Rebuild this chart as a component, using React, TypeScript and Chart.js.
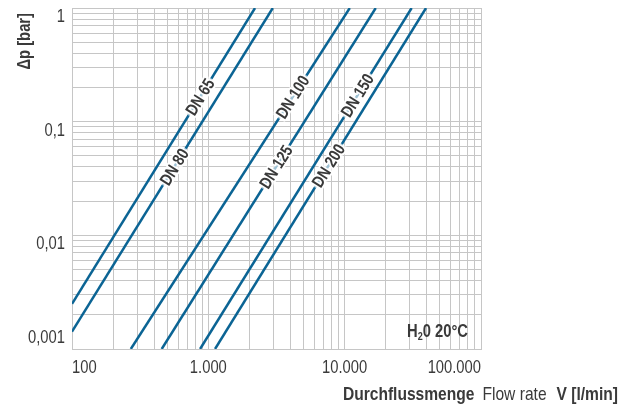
import React, { useEffect, useRef } from "react";
import { Chart, registerables } from "chart.js";

Chart.register(...registerables);

// ---- data ----
const seriesNames = ["DN 65", "DN 80", "DN 100", "DN 125", "DN 150", "DN 200"];
const flowStart = [100, 100, 270, 455, 870, 1120];
const dpStart = [0.0025, 0.00142, 0.001, 0.001, 0.001, 0.001];
const flowEnd = [2200, 2970, 10900, 16900, 31000, 39500];
const dpEnd = [1, 1, 1, 1, 1, 1];
const labelDp = [0.165, 0.04, 0.165, 0.04, 0.17, 0.041];

const flowDecades = [100, 1000, 10000, 100000];
const flowTickLabels = ["100", "1.000", "10.000", "100.000"];
const dpDecades = [0.001, 0.01, 0.1, 1];
const dpTickLabels = ["0,001", "0,01", "0,1", "1"];
const gridSteps = [1, 2, 3, 4, 5, 6, 7, 8, 9];

const FONT = "'Liberation Sans', Arial, sans-serif";
const SX = 0.82; // horizontal condensation of the text
const LINE = "#0b6494";
const GRID = "#c6c6c6";
const TEXT = "#3a3a3a";

function gridValues(decades: number[]) {
  const out: number[] = [];
  for (let i = 0; i < decades.length - 1; i++)
    for (const s of gridSteps) out.push(+(decades[i] * s).toPrecision(6));
  out.push(decades[decades.length - 1]);
  return out;
}

function measure(ctx: any, text: string, font: string) {
  ctx.save();
  ctx.font = font;
  const w = ctx.measureText(text).width * SX;
  ctx.restore();
  return w;
}

// draws condensed text at baseline y
function drawText(ctx: any, text: string, x: number, y: number, font: string, align: string) {
  const w = measure(ctx, text, font);
  let left = x;
  if (align === "center") left = x - w / 2;
  else if (align === "right") left = x - w;
  ctx.save();
  ctx.font = font;
  ctx.textAlign = "left";
  ctx.textBaseline = "alphabetic";
  ctx.translate(left, y);
  ctx.scale(SX, 1);
  ctx.fillText(text, 0, 0);
  ctx.restore();
}

const annotate = {
  id: "annotate",
  afterDatasetsDraw(chart: any) {
    const ctx = chart.ctx;
    const ys = chart.scales.y;
    seriesNames.forEach((name, i) => {
      const pts = chart.getDatasetMeta(i).data;
      const p0 = pts[0];
      const p1 = pts[pts.length - 1];
      const py = ys.getPixelForValue(labelDp[i]);
      const t = (py - p0.y) / (p1.y - p0.y);
      const px = p0.x + t * (p1.x - p0.x);
      const ang = Math.atan2(p1.y - p0.y, p1.x - p0.x);
      const font = `bold 17px ${FONT}`;
      ctx.save();
      ctx.translate(px, py);
      ctx.rotate(ang);
      ctx.font = font;
      const w = ctx.measureText(name).width * SX;
      ctx.fillStyle = "rgba(255,255,255,0.6)";
      ctx.fillRect(-w / 2 - 2, -7, w + 4, 14);
      ctx.scale(SX, 1);
      ctx.textAlign = "center";
      ctx.textBaseline = "middle";
      ctx.lineJoin = "round";
      ctx.strokeStyle = "rgba(255,255,255,0.95)";
      ctx.lineWidth = 4;
      ctx.strokeText(name, 0, 1);
      ctx.fillStyle = TEXT;
      ctx.fillText(name, 0, 1);
      ctx.restore();
    });
  },
  afterDraw(chart: any) {
    const ctx = chart.ctx;
    const xs = chart.scales.x;
    const ys = chart.scales.y;
    const area = chart.chartArea;
    const tickFont = `18px ${FONT}`;
    ctx.save();
    ctx.fillStyle = TEXT;
    // x tick labels (first flush left, last flush right, others centred)
    flowDecades.forEach((v, i) => {
      const p = xs.getPixelForValue(v);
      const align = i === 0 ? "left" : i === flowDecades.length - 1 ? "right" : "center";
      drawText(ctx, flowTickLabels[i], p, area.bottom + 24, tickFont, align);
    });
    // y tick labels
    dpDecades.forEach((v, i) => {
      const p = ys.getPixelForValue(v);
      const off = i === 0 ? -6 : 14;
      drawText(ctx, dpTickLabels[i], area.left - 7, p + off, tickFont, "right");
    });
    // y title
    ctx.save();
    ctx.translate(30, 13);
    ctx.rotate(-Math.PI / 2);
    drawText(ctx, "\u0394p [bar]", 0, 0, `bold 18px ${FONT}`, "right");
    ctx.restore();
    // x title
    const parts: [string, string][] = [
      ["Durchflussmenge", `bold 19px ${FONT}`],
      ["Flow rate", `19px ${FONT}`],
      ["V [l/min]", `bold 19px ${FONT}`],
    ];
    const gaps = [8, 10];
    const widths = parts.map(([s, f]) => measure(ctx, s, f));
    const total = widths.reduce((a, b) => a + b, 0) + gaps[0] + gaps[1];
    let x = 618 - total;
    parts.forEach(([s, f], i) => {
      drawText(ctx, s, x, 400, f, "left");
      x += widths[i] + (gaps[i] || 0);
    });
    // H2O 20°C
    const bigF = `bold 18px ${FONT}`;
    const smallF = `bold 11px ${FONT}`;
    const wH = measure(ctx, "H", bigF);
    const w2 = measure(ctx, "2", smallF);
    const wRest = measure(ctx, "0 20\u00b0C", bigF);
    let hx = area.right - 13 - (wH + w2 + wRest);
    const base = area.bottom - 12;
    drawText(ctx, "H", hx, base, bigF, "left");
    hx += wH;
    drawText(ctx, "2", hx, base + 3, smallF, "left");
    hx += w2;
    drawText(ctx, "0 20\u00b0C", hx, base, bigF, "left");
    ctx.restore();
  },
};

export default function App() {
  const ref = useRef<HTMLCanvasElement>(null);
  useEffect(() => {
    const xGrid = gridValues(flowDecades);
    const yGrid = gridValues(dpDecades);
    const chart = new Chart(ref.current as HTMLCanvasElement, {
      type: "scatter",
      data: {
        datasets: seriesNames.map((name, i) => ({
          label: name,
          data: [
            { x: flowStart[i], y: dpStart[i] },
            { x: flowEnd[i], y: dpEnd[i] },
          ],
          showLine: true,
          borderColor: LINE,
          backgroundColor: LINE,
          borderWidth: 2.5,
          pointRadius: 0,
        })),
      },
      options: {
        responsive: false,
        animation: false,
        devicePixelRatio: 1,
        layout: { padding: { left: 0, top: 8, right: 140, bottom: 0 } },
        plugins: { legend: { display: false }, tooltip: { enabled: false } },
        scales: {
          x: {
            type: "logarithmic",
            min: 100,
            max: 100000,
            afterBuildTicks: (s: any) => {
              s.ticks = xGrid.map((v) => ({ value: v }));
            },
            afterFit: (s: any) => {
              s.height = 60;
              s.paddingLeft = 0;
              s.paddingRight = 0;
            },
            grid: { color: GRID, lineWidth: 1, drawTicks: false },
            border: { color: GRID, width: 1 },
            ticks: { display: false, autoSkip: false },
          },
          y: {
            type: "logarithmic",
            min: 0.001,
            max: 1,
            afterBuildTicks: (s: any) => {
              s.ticks = yGrid.map((v) => ({ value: v }));
            },
            afterFit: (s: any) => {
              s.width = 72;
              s.paddingTop = 0;
              s.paddingBottom = 0;
            },
            grid: { color: GRID, lineWidth: 1, drawTicks: false },
            border: { color: GRID, width: 1 },
            ticks: { display: false, autoSkip: false },
          },
        },
      } as any,
      plugins: [annotate],
    });
    return () => chart.destroy();
  }, []);
  return (
    <div style={{ position: "absolute", left: 0, top: 0, width: 621, height: 409, background: "#fff" }}>
      <canvas ref={ref} width={621} height={409} style={{ display: "block", width: 621, height: 409 }} />
    </div>
  );
}
